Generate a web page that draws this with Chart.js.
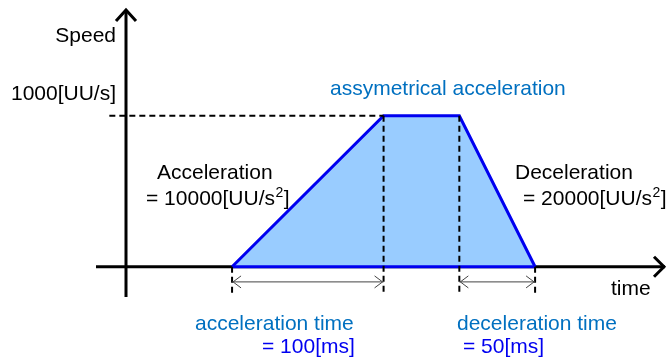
<!DOCTYPE html>
<html>
<head>
<meta charset="utf-8">
<script src="https://cdn.jsdelivr.net/npm/chart.js@4/dist/chart.umd.min.js"></script>
<style>
    body{ margin:0; background:#fff; }
    #wrap{ width:667px; height:360px; }
</style>
</head>
<body>
<div id="wrap"><canvas id="speedChart" width="667" height="360"></canvas></div>
<script>

// DATA

const phaseTimes  = [70, 170, 220, 270];   // ms : start, end accel, start decel, stop
const phaseSpeeds = [0, 1000, 1000, 0];    // UU/s
const targetSpeed = 1000;
const accelSpan   = [70, 170];             // 100 ms
const decelSpan   = [220, 270];            // 50 ms
const dimLevel    = -100;                  // speed value where the time arrows sit
const guideBottom = -190;

const labels = {
    yAxis: "Speed",
    xAxis: "time",
    target: "1000[UU/s]",
    title: "assymetrical acceleration",
    acc: ["Acceleration", "= 10000[UU/s", "2", "]"],
    dec: ["Deceleration", "= 20000[UU/s", "2", "]"],
    accTime: ["acceleration time", "= 100[ms]"],
    decTime: ["deceleration time", "= 50[ms]"]
};

const FONT = "21px 'Liberation Sans', Arial, sans-serif";
const SMALL = "14px 'Liberation Sans', Arial, sans-serif";

// DATASETS

let profile = phaseTimes.map((t, i) => ({x: t, y: phaseSpeeds[i]}));

let dashStyle = {
    borderColor: "#000",
    borderWidth: 2,
    borderDash: [6, 4],
    pointRadius: 0,
    fill: false,
    order: 0
};

let guides = [
    [{x: -11, y: targetSpeed}, {x: phaseTimes[1], y: targetSpeed}],
    [{x: phaseTimes[1], y: targetSpeed}, {x: phaseTimes[1], y: guideBottom}],
    [{x: phaseTimes[2], y: targetSpeed}, {x: phaseTimes[2], y: guideBottom}],
    [{x: phaseTimes[0], y: 0}, {x: phaseTimes[0], y: guideBottom}],
    [{x: phaseTimes[3], y: 0}, {x: phaseTimes[3], y: guideBottom}]
].map(d => Object.assign({data: d}, dashStyle));

// DRAWING HELPERS

function chevron(ctx, x, y, dx, dy, w){
    // open arrow head with its tip at x,y
    ctx.beginPath();
    if(dy === 0){
        ctx.moveTo(x + dx, y - w);
        ctx.lineTo(x, y);
        ctx.lineTo(x + dx, y + w);
    } else {
        ctx.moveTo(x - w, y + dy);
        ctx.lineTo(x, y);
        ctx.lineTo(x + w, y + dy);
    }
    ctx.stroke();
}

function supText(ctx, parts, x, y){
    ctx.font = FONT;
    ctx.fillText(parts[1], x, y);
    let w = ctx.measureText(parts[1]).width;
    ctx.font = SMALL;
    ctx.fillText(parts[2], x + w + 0.5, y - 8);
    let w2 = ctx.measureText(parts[2]).width;
    ctx.font = FONT;
    ctx.fillText(parts[3], x + w + w2 + 1, y);
}

const diagramPlugin = {

    id: "diagram",

    beforeDatasetsDraw(chart){

        let ctx = chart.ctx;
        let xs = chart.scales.x;
        let ys = chart.scales.y;
        let x0 = xs.getPixelForValue(0);
        let y0 = ys.getPixelForValue(0);

        ctx.save();
        ctx.strokeStyle = "#000";
        ctx.lineWidth = 3;
        ctx.lineCap = "butt";

        // y axis
        ctx.beginPath();
        ctx.moveTo(x0, ys.bottom);
        ctx.lineTo(x0, ys.top);
        ctx.stroke();
        chevron(ctx, x0, ys.top, 0, 11, 10);

        // x axis
        ctx.beginPath();
        ctx.moveTo(xs.left, y0);
        ctx.lineTo(xs.right - 1, y0);
        ctx.stroke();
        chevron(ctx, xs.right - 2, y0, -10, 0, 10);

        ctx.restore();
    },

    afterDatasetsDraw(chart){

        let ctx = chart.ctx;
        let xs = chart.scales.x;
        let ys = chart.scales.y;

        ctx.save();

        // time dimension arrows
        ctx.strokeStyle = "#444";
        ctx.lineWidth = 1;
        let yd = ys.getPixelForValue(dimLevel);

        [accelSpan, decelSpan].forEach(s => {
            let a = xs.getPixelForValue(s[0]);
            let b = xs.getPixelForValue(s[1]);
            ctx.beginPath();
            ctx.moveTo(a, yd);
            ctx.lineTo(b, yd);
            ctx.stroke();
            chevron(ctx, a + 1, yd, 8, 0, 6);
            chevron(ctx, b - 1, yd, -8, 0, 6);
        });

        // texts
        ctx.textBaseline = "alphabetic";
        ctx.font = FONT;
        ctx.fillStyle = "#000";

        ctx.textAlign = "right";
        ctx.fillText(labels.yAxis, 116, 42);
        ctx.fillText(labels.target, 116, 100);

        ctx.textAlign = "left";
        ctx.fillText(labels.xAxis, 611, 295);

        ctx.fillText(labels.acc[0], 157, 179);
        supText(ctx, labels.acc, 146, 205);

        ctx.fillText(labels.dec[0], 515, 179);
        supText(ctx, labels.dec, 523, 205);

        ctx.fillStyle = "#0070C0";
        ctx.fillText(labels.title, 330, 95);
        ctx.fillText(labels.accTime[0], 195, 330);
        ctx.fillText(labels.decTime[0], 457, 330);

        ctx.fillStyle = "#0000F0";
        ctx.fillText(labels.accTime[1], 262, 353);
        ctx.fillText(labels.decTime[1], 463, 353);

        ctx.restore();
    }
};

// CHART

new Chart(document.getElementById("speedChart"), {

    type: "line",

    data: {
        datasets: [
            ...guides,
            {
                // blue bottom edge on the time axis
                data: [profile[0], profile[profile.length - 1]],
                borderColor: "#0000F0",
                borderWidth: 3,
                pointRadius: 0,
                fill: false,
                order: 1
            },
            {
                data: profile,
                borderColor: "#0000F0",
                backgroundColor: "#99CCFF",
                borderWidth: 3,
                pointRadius: 0,
                tension: 0,
                fill: "origin",
                order: 2
            }
        ]
    },

    options: {
        responsive: false,
        animation: false,
        devicePixelRatio: 1,
        layout: {
            padding: {left: 96, right: 1, top: 10, bottom: 63}
        },
        scales: {
            x: {type: "linear", min: -19.8, max: 356.4, display: false},
            y: {type: "linear", min: -200, max: 1700, display: false}
        },
        plugins: {
            legend: {display: false},
            tooltip: {enabled: false}
        }
    },

    plugins: [diagramPlugin]
});

</script>
</body>
</html>
